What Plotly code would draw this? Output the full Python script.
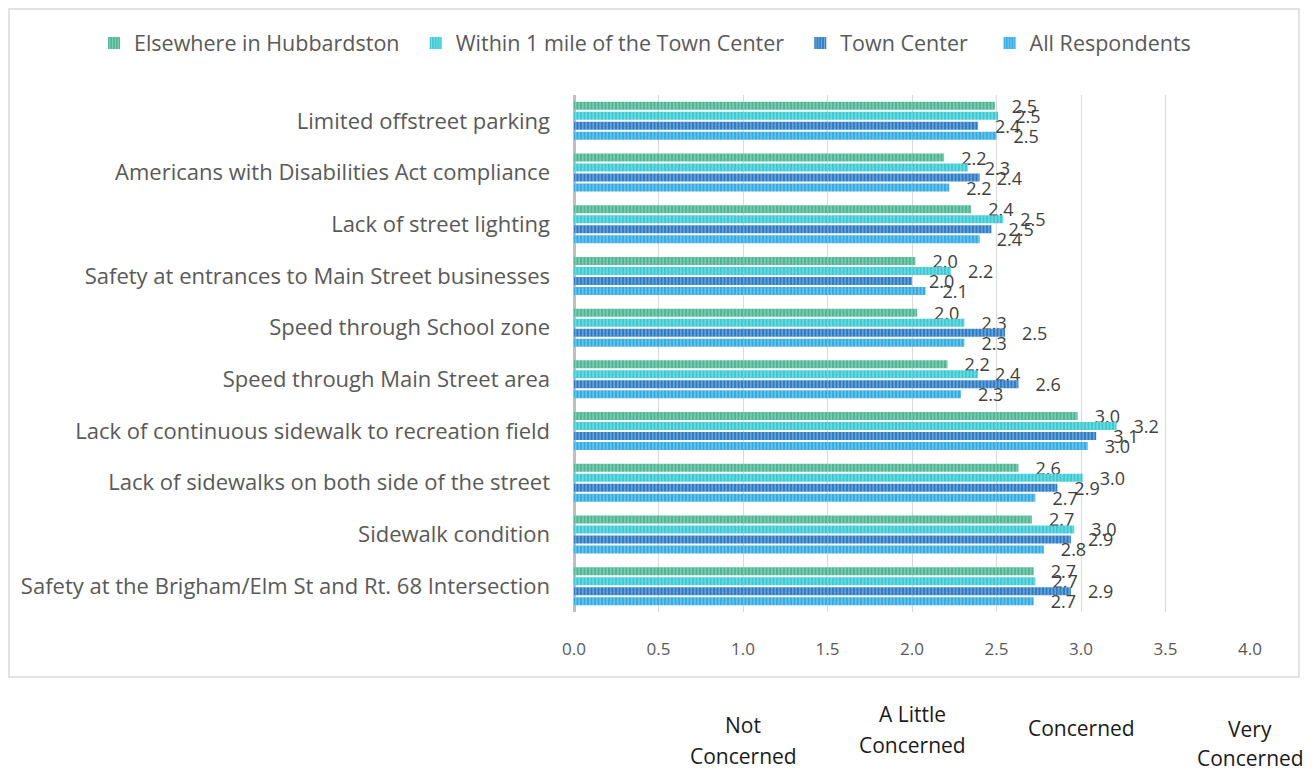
import plotly.graph_objects as go

categories = [
    "Limited offstreet parking",
    "Americans with Disabilities Act compliance",
    "Lack of street lighting",
    "Safety at entrances to Main Street businesses",
    "Speed through School zone",
    "Speed through Main Street area",
    "Lack of continuous sidewalk to recreation field",
    "Lack of sidewalks on both side of the street",
    "Sidewalk condition",
    "Safety at the Brigham/Elm St and Rt. 68 Intersection",
]

series_names = [
    "Elsewhere in Hubbardston",
    "Within 1 mile of the Town Center",
    "Town Center",
    "All Respondents",
]

elsewhere = [2.49, 2.19, 2.35, 2.02, 2.03, 2.21, 2.98, 2.63, 2.71, 2.72]
within_1_mile = [2.51, 2.33, 2.54, 2.23, 2.31, 2.39, 3.21, 3.01, 2.96, 2.73]
town_center = [2.39, 2.40, 2.47, 2.00, 2.55, 2.63, 3.09, 2.86, 2.94, 2.94]
all_respondents = [2.50, 2.22, 2.40, 2.08, 2.31, 2.29, 3.04, 2.73, 2.78, 2.72]

series_values = [elsewhere, within_1_mile, town_center, all_respondents]
colors = ["#4cb593", "#38c9d3", "#2d7bc4", "#32abe1"]
legend_pad = [2, 2, 3, 0]  # extra spacing after each legend entry

x_ticks = [0.0, 0.5, 1.0, 1.5, 2.0, 2.5, 3.0, 3.5, 4.0]
concern_labels = [
    (1, ["Not", "Concerned"]),
    (2, ["A Little", "Concerned"]),
    (3, ["Concerned"]),
    (4, ["Very", "Concerned"]),
]

FONT = "Open Sans"
GREY = "#595959"

# page body has an 8px margin, so the figure is sized/placed accordingly
W, H = 1306, 764
L, R, T, B = 566, 64, 87, 160
PW, PH = W - L - R, H - T - B

fig = go.Figure()
for name, vals, col, pad in zip(series_names, series_values, colors, legend_pad):
    fig.add_trace(go.Bar(
        y=categories,
        x=vals,
        name=name + "\u00a0" * pad,
        orientation="h",
        marker=dict(
            color=col,
            line=dict(width=0),
            pattern=dict(shape="|", fgcolor="white", fgopacity=0.35,
                         size=3.5, solidity=0.4, bgcolor=col),
        ),
        text=[f"{v:.1f}" for v in vals],
        texttemplate="\u00a0\u00a0\u00a0%{text}",
        textposition="outside",
        constraintext="none",
        cliponaxis=False,
        textfont=dict(family=FONT, size=18, color="#404040"),
        hovertemplate=name + ": %{x:.2f}<extra></extra>",
    ))

annotations = []
line_y = {1: [-0.218, -0.278], 2: [-0.198, -0.258], 3: [-0.224], 4: [-0.226, -0.283]}
for xv, lines in concern_labels:
    for ln, yy in zip(lines, line_y[xv]):
        annotations.append(dict(
            x=xv, y=yy, xref="x", yref="paper", text=ln, showarrow=False,
            font=dict(family=FONT, size=21, color="#1a1a1a"),
            xanchor="center", yanchor="middle",
        ))

fig.update_layout(
    width=W, height=H,
    margin=dict(l=L, r=R, t=T, b=B, autoexpand=False),
    paper_bgcolor="white", plot_bgcolor="white",
    barmode="group", bargap=0.226, bargroupgap=0.2,
    font=dict(family=FONT, color=GREY),
    showlegend=True,
    legend=dict(
        orientation="h",
        x=(94 - 8 - L) / PW, xanchor="left",
        y=(T + PH - (43 - 8)) / PH, yanchor="middle",
        font=dict(family=FONT, size=21.5, color=GREY),
        bgcolor="rgba(0,0,0,0)",
        itemclick=False, traceorder="normal", itemwidth=30,
    ),
    xaxis=dict(
        range=[0, 4], tickvals=x_ticks, ticktext=[f"{t:.1f}" for t in x_ticks],
        showgrid=True, gridcolor="#d9d9d9", gridwidth=1,
        zeroline=True, zerolinecolor="#bfbfbf", zerolinewidth=3,
        showline=False, ticks="",
        tickfont=dict(family=FONT, size=17, color=GREY),
        ticklabelstandoff=25,
    ),
    yaxis=dict(
        categoryorder="array", categoryarray=categories,
        autorange="reversed",
        showgrid=False, zeroline=False, showline=False, ticks="",
        tickfont=dict(family=FONT, size=22, color=GREY),
        ticklabelstandoff=23,
    ),
    annotations=annotations,
    shapes=[dict(
        type="rect", xref="paper", yref="paper",
        x0=(1 - L) / PW, x1=(1299 - 8 - L) / PW,
        y0=(PH + T - (677 - 8)) / PH, y1=(PH + T - 1) / PH,
        line=dict(color="#d9d9d9", width=1.5), fillcolor="rgba(0,0,0,0)",
        layer="below",
    )],
)

fig.write_html("out.html")
